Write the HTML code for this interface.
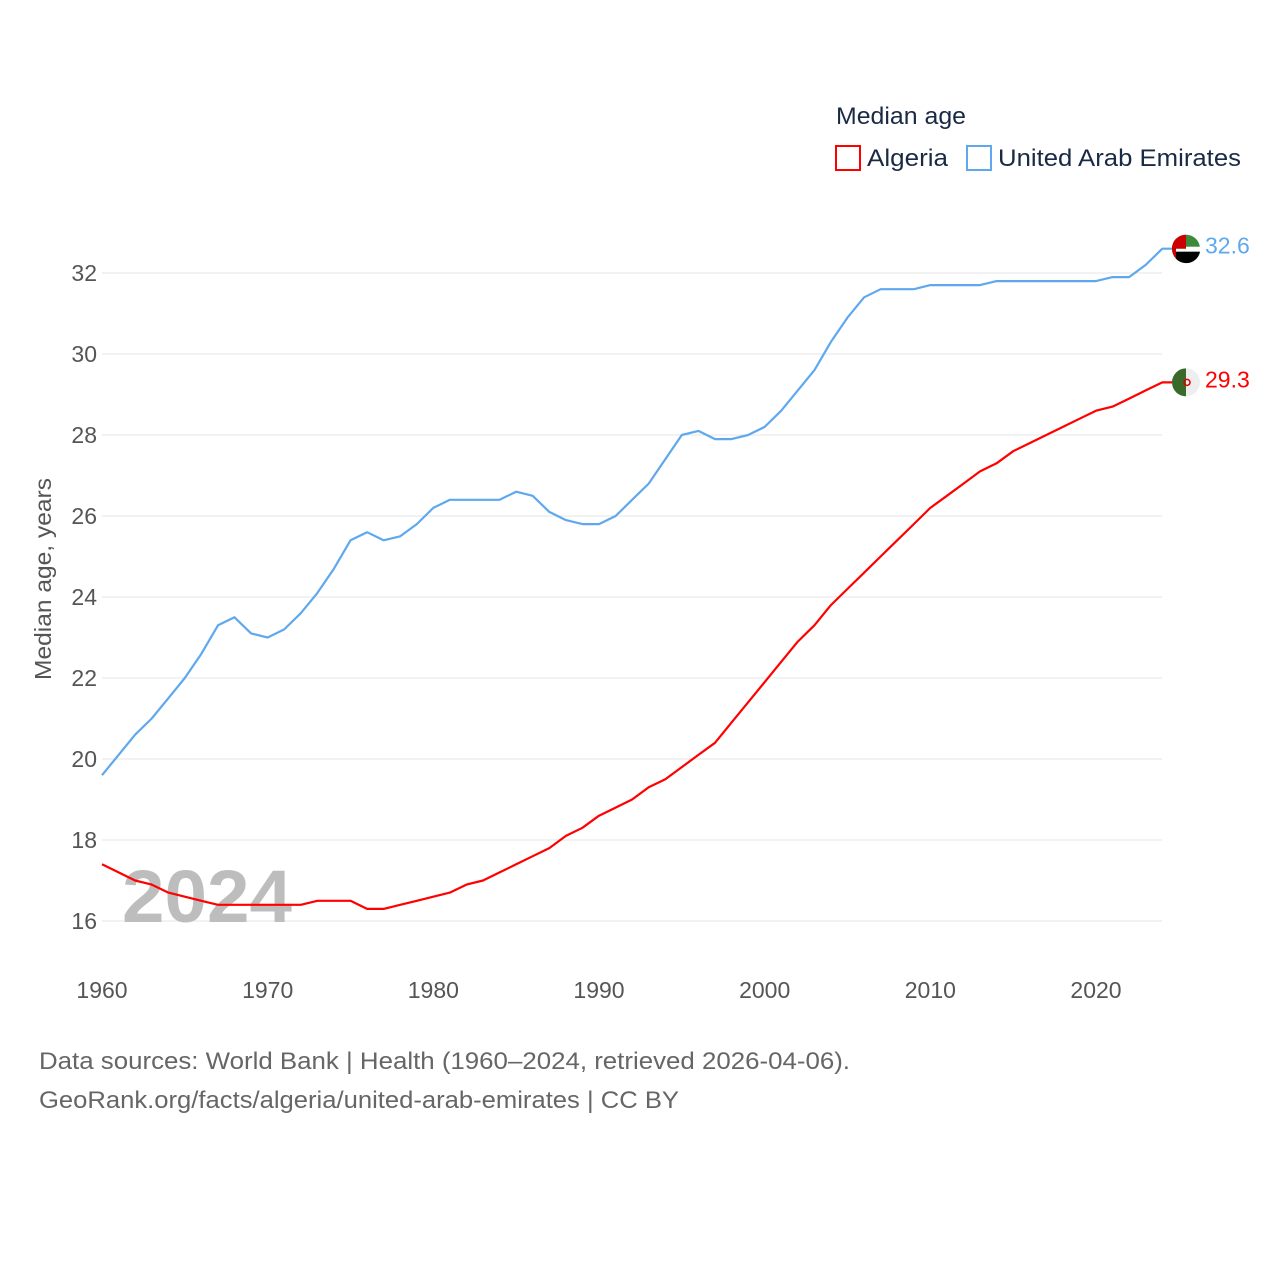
<!DOCTYPE html>
<html><head><meta charset="utf-8"><style>
body{margin:0;background:#fff;font-family:"Liberation Sans",sans-serif}
svg text{font-family:"Liberation Sans",sans-serif}
</style></head><body>
<svg id="chart" width="1280" height="1280" viewBox="0 0 1280 1280">
<g id="grid"></g>
<g id="yticks"></g>
<g id="xticks"></g>
<text x="122" y="922" font-size="74" font-weight="bold" fill="#bdbdbd" textLength="170" lengthAdjust="spacingAndGlyphs">2024</text>
<g id="series"></g>
<text transform="translate(51,579) rotate(-90)" text-anchor="middle" font-size="23" fill="#555" textLength="202" lengthAdjust="spacingAndGlyphs">Median age, years</text>
<text x="836" y="124" font-size="24" fill="#1a2a44" textLength="130" lengthAdjust="spacingAndGlyphs">Median age</text>
<g>
<rect x="836" y="146" width="24" height="24" fill="none" stroke="#ff0000" stroke-width="2"/>
<text x="867" y="166" font-size="24" fill="#1a2a44" textLength="81" lengthAdjust="spacingAndGlyphs">Algeria</text></g>
<g>
<rect x="967" y="146" width="24" height="24" fill="none" stroke="#5fa8ee" stroke-width="2"/>
<text x="998" y="166" font-size="24" fill="#1a2a44" textLength="243" lengthAdjust="spacingAndGlyphs">United Arab Emirates</text></g>
<text x="39" y="1069" font-size="24" fill="#666" textLength="811" lengthAdjust="spacingAndGlyphs">Data sources: World Bank | Health (1960–2024, retrieved 2026-04-06).</text>
<text x="39" y="1108" font-size="24" fill="#666" textLength="640" lengthAdjust="spacingAndGlyphs">GeoRank.org/facts/algeria/united-arab-emirates | CC BY</text>
</svg>
<script>
const years=[];for(let y=1960;y<=2024;y++)years.push(y);
const uae=[19.6,20.1,20.6,21.0,21.5,22.0,22.6,23.3,23.5,23.1,23.0,23.2,23.6,24.1,24.7,25.4,25.6,25.4,25.5,25.8,26.2,26.4,26.4,26.4,26.4,26.6,26.5,26.1,25.9,25.8,25.8,26.0,26.4,26.8,27.4,28.0,28.1,27.9,27.9,28.0,28.2,28.6,29.1,29.6,30.3,30.9,31.4,31.6,31.6,31.6,31.7,31.7,31.7,31.7,31.8,31.8,31.8,31.8,31.8,31.8,31.8,31.9,31.9,32.2,32.6];
const algeria=[17.4,17.2,17.0,16.9,16.7,16.6,16.5,16.4,16.4,16.4,16.4,16.4,16.4,16.5,16.5,16.5,16.3,16.3,16.4,16.5,16.6,16.7,16.9,17.0,17.2,17.4,17.6,17.8,18.1,18.3,18.6,18.8,19.0,19.3,19.5,19.8,20.1,20.4,20.9,21.4,21.9,22.4,22.9,23.3,23.8,24.2,24.6,25.0,25.4,25.8,26.2,26.5,26.8,27.1,27.3,27.6,27.8,28.0,28.2,28.4,28.6,28.7,28.9,29.1,29.3];
const yTicks=[16,18,20,22,24,26,28,30,32];
const xTicks=[1960,1970,1980,1990,2000,2010,2020];
const NS="http://www.w3.org/2000/svg";
const X=y=>102+(y-1960)*994/60;
const Y=v=>921-(v-16)*40.5;
function mk(t,a,p){const e=document.createElementNS(NS,t);for(const k in a)e.setAttribute(k,a[k]);p.appendChild(e);return e;}
const grid=document.getElementById('grid'),yt=document.getElementById('yticks'),xt=document.getElementById('xticks'),ser=document.getElementById('series');
yTicks.forEach(v=>{
 const l=mk('line',{x1:102,x2:1162,y1:Y(v),y2:Y(v),stroke:'#e6e6e6','stroke-width':1},grid);
 
 
 const t=mk('text',{x:97,y:Y(v)+8,'text-anchor':'end','font-size':23,fill:'#555'},yt);t.textContent=v;
 
 
});
xTicks.forEach(v=>{
 const t=mk('text',{x:X(v),y:998,'text-anchor':'middle','font-size':23,fill:'#555'},xt);t.textContent=v;
 
 
});
function line(data,color,name){
 const d=data.map((v,i)=>(i?'L':'M')+X(years[i]).toFixed(1)+','+Y(v).toFixed(1)).join(' ');
 const last=data[data.length-1];
 const p=mk('path',{d:d+' L1186,'+Y(last).toFixed(1),fill:'none',stroke:color,'stroke-width':2.2,'stroke-linejoin':'round'},ser);
 
 
 const c=mk('circle',{cx:1186,cy:Y(last),r:14,fill:name==='uae'?'#3c8b3c':'#eeeeee',stroke:'none'},ser);
 
 
 if(name==='uae'){mk('path',{d:`M1172,${Y(last)} A14,14 0 0 1 1176,${Y(last)-10} L1176,${Y(last)+10} A14,14 0 0 1 1172,${Y(last)}`,fill:'#c00'},ser);
  mk('rect',{x:1176,y:Y(last)-2,width:24,height:5,fill:'#fff'},ser);
  mk('path',{d:`M1176,${Y(last)+3} L1200,${Y(last)+3} A14,14 0 0 1 1176,${Y(last)+10}Z`,fill:'#000'},ser);
  mk('path',{d:`M1186,${Y(last)-14} A14,14 0 0 0 1172,${Y(last)} L1186,${Y(last)}Z`,fill:'#c00'},ser);}
 else{mk('path',{d:`M1186,${Y(last)-14} A14,14 0 0 0 1186,${Y(last)+14}Z`,fill:'#3a6a2a'},ser);
  mk('circle',{cx:1187,cy:Y(last),r:3,fill:'none',stroke:'#d00','stroke-width':1.5},ser);}
 const t=mk('text',{x:1205,y:Y(last)+5,'font-size':23,fill:color},ser);t.textContent=last.toFixed(1);
 
 
}
line(uae,'#5fa8ee','uae');
line(algeria,'#ff0000','algeria');
</script>
</body></html>
